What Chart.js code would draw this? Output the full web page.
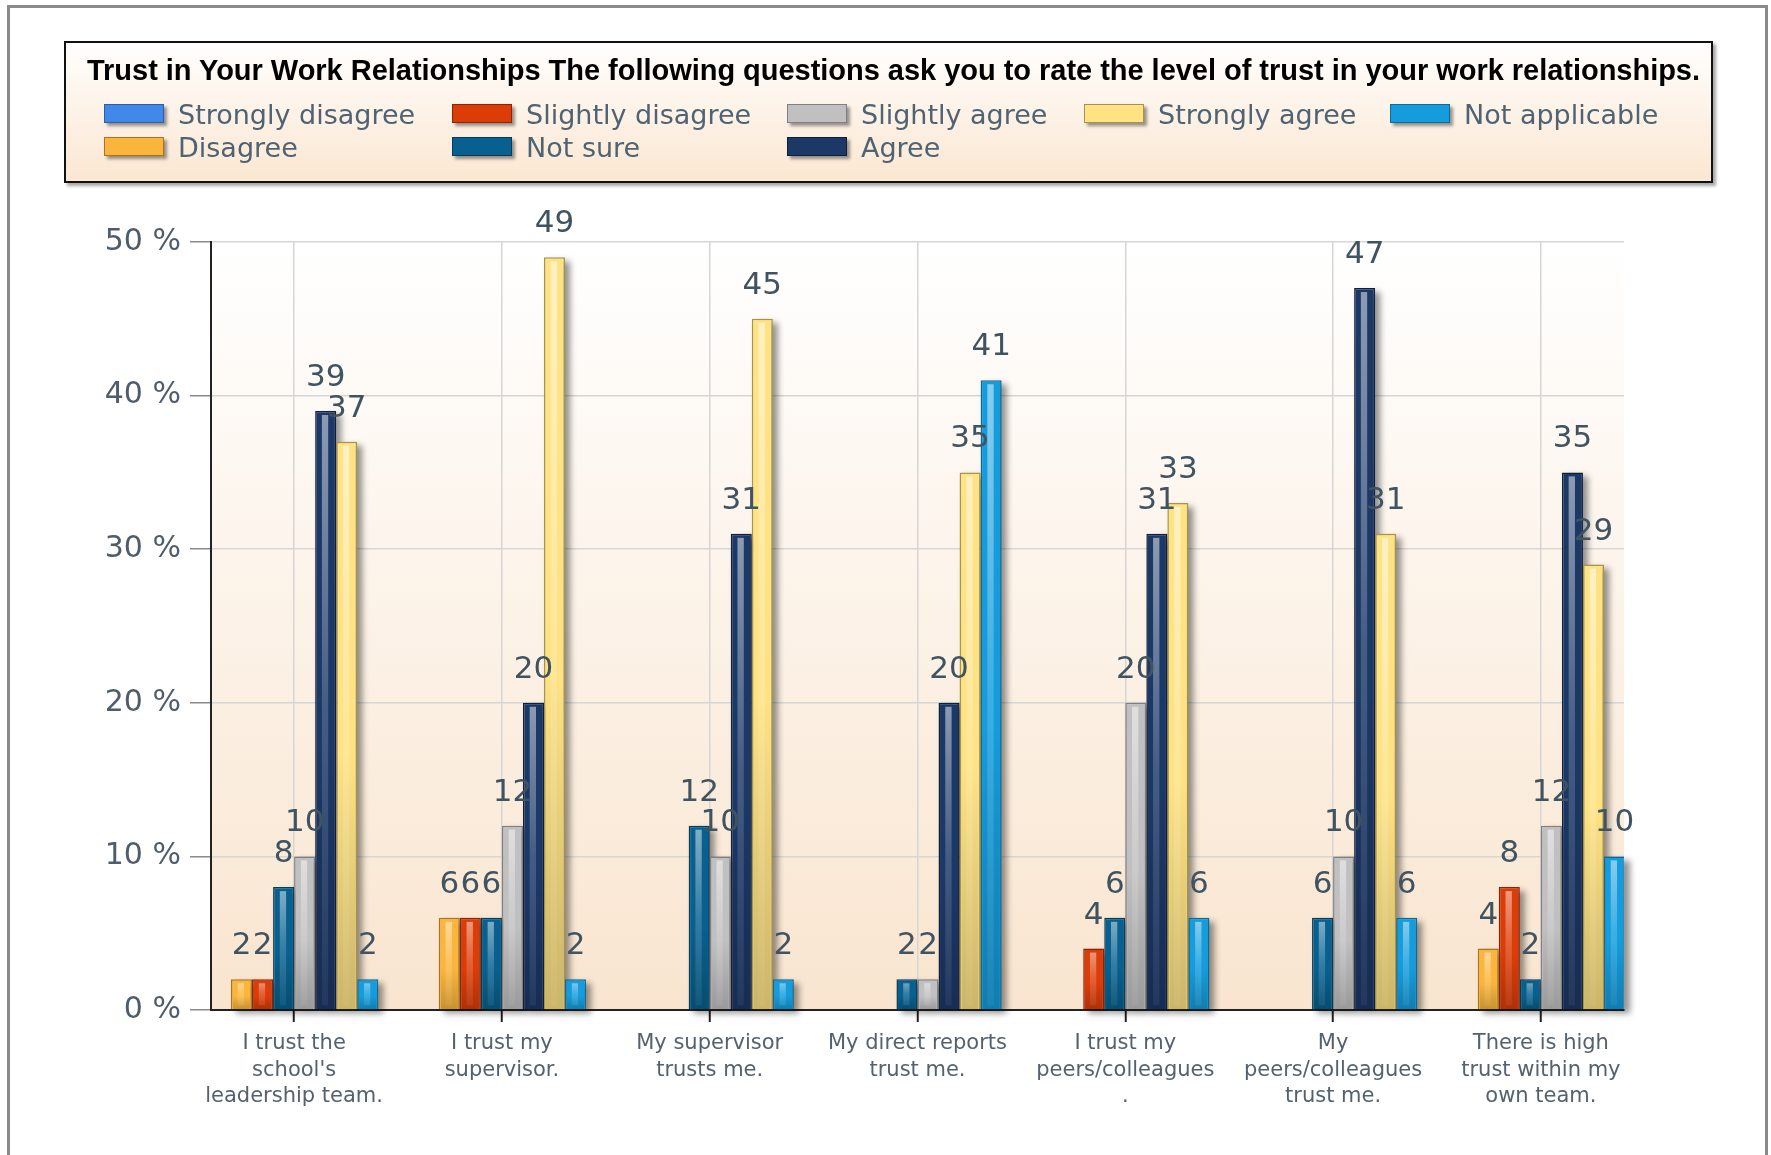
<!DOCTYPE html>
<html>
<head>
<meta charset="utf-8">
<title>Trust in Your Work Relationships</title>
<script src="https://cdn.jsdelivr.net/npm/chart.js@4.4.1/dist/chart.umd.min.js"></script>
<style>
    body { margin: 0; background: #fff; width: 1771px; height: 1155px; overflow: hidden; position: relative; }
    #frame { position: absolute; left: 7px; top: 5px; width: 1761px; height: 1200px; box-sizing: border-box;
             border: 3px solid #8a8a8a; border-bottom: none; }
    #chartCanvas { position: absolute; left: 0; top: 0; }
    #legendBox { position: absolute; left: 64px; top: 41px; width: 1649px; height: 142px; box-sizing: border-box;
                 border: 2px solid #111; background: linear-gradient(#fffefd, #fbe7d2);
                 box-shadow: 3px 3px 3px rgba(0,0,0,0.35); }
    #legendTitle { position: absolute; left: 21px; top: 13px; white-space: nowrap; color: #000;
                   font: bold 29px 'Liberation Sans', Arial, sans-serif; line-height: 29px; }
    .legItem { position: absolute; height: 27px; white-space: nowrap; }
    .legSwatch { position: absolute; left: 0; top: 2px; width: 60px; height: 19px; box-sizing: border-box;
                 border: 1px solid rgba(0,0,0,0.55); box-shadow: 3px 3px 3px rgba(0,0,0,0.4); }
    .legText { position: absolute; left: 74px; top: -1px; font: 27px 'DejaVu Sans', sans-serif; line-height: 27px; color: #506373; }
</style>
</head>
<body>
<div id="frame"></div>
<canvas id="chartCanvas" width="1771" height="1155"></canvas>
<div id="legendBox"><div id="legendTitle"></div></div>

<script>
// ---- data ----
var chartTitle = "Trust in Your Work Relationships The following questions ask you to rate the level of trust in your work relationships.";

var categories = [
    "I trust the school's leadership team.",
    "I trust my supervisor.",
    "My supervisor trusts me.",
    "My direct reports trust me.",
    "I trust my peers/colleagues .",
    "My peers/colleagues trust me.",
    "There is high trust within my own team."
];
var tickLabels = [
    ["I trust the", "school's", "leadership team."],
    ["I trust my", "supervisor."],
    ["My supervisor", "trusts me."],
    ["My direct reports", "trust me."],
    ["I trust my", "peers/colleagues", "."],
    ["My", "peers/colleagues", "trust me."],
    ["There is high", "trust within my", "own team."]
];
var yTicks = [0, 10, 20, 30, 40, 50];

var seriesNames = ["Strongly disagree", "Disagree", "Slightly disagree", "Not sure",
                   "Slightly agree", "Agree", "Strongly agree", "Not applicable"];

var stronglyDisagree = [0, 0, 0, 0, 0, 0, 0];
var disagree         = [2, 6, 0, 0, 0, 0, 4];
var slightlyDisagree = [2, 6, 0, 0, 4, 0, 8];
var notSure          = [8, 6, 12, 2, 6, 6, 2];
var slightlyAgree    = [10, 12, 10, 2, 20, 10, 12];
var agree            = [39, 20, 31, 20, 31, 47, 35];
var stronglyAgree    = [37, 49, 45, 35, 33, 31, 29];
var notApplicable    = [2, 2, 2, 41, 6, 6, 10];

var seriesValues = [stronglyDisagree, disagree, slightlyDisagree, notSure,
                    slightlyAgree, agree, stronglyAgree, notApplicable];

// ---- styles ----
var fillColors   = ['#4189e8', '#fbb53c', '#dc3c08', '#07608f', '#c0c0c0', '#1c3867', '#fee284', '#149cdc'];
var borderColors = ['#2a5fa8', '#a8741c', '#8a2405', '#043c5c', '#808080', '#0e1f3d', '#a89544', '#0b6a9a'];
var legendOrder  = [0, 2, 4, 6, 7, 1, 3, 5];
var legendCols   = [38, 386, 721, 1018, 1324];
var legendRows   = [59, 92];

function plotBackground() {
    return {
        id: 'plotBackground',
        beforeDraw: function(chart) {
            var a = chart.chartArea, ctx = chart.ctx;
            var g = ctx.createLinearGradient(0, a.top, 0, a.bottom);
            g.addColorStop(0, '#ffffff');
            g.addColorStop(1, '#f9e5cf');
            ctx.save();
            ctx.fillStyle = g;
            ctx.fillRect(a.left, a.top, a.right - a.left, a.bottom - a.top);
            ctx.restore();
        }
    };
}

function barShadows() {
    return {
        id: 'barShadows',
        beforeDatasetsDraw: function(chart) {
            var ctx = chart.ctx;
            ctx.save();
            ctx.filter = 'blur(3px)';
            ctx.fillStyle = 'rgba(0,0,0,0.42)';
            chart.data.datasets.forEach(function(ds, d) {
                chart.getDatasetMeta(d).data.forEach(function(bar, i) {
                    if (!ds.data[i].y) return;
                    var p = bar.getProps(['x', 'y', 'base', 'width'], true);
                    ctx.fillRect(p.x - p.width / 2 + 5, p.y + 4, p.width, p.base - p.y);
                });
            });
            ctx.restore();
        }
    };
}

function barShineAndLabels() {
    return {
        id: 'barShineAndLabels',
        afterDatasetsDraw: function(chart) {
            var ctx = chart.ctx;
            ctx.save();
            chart.data.datasets.forEach(function(ds, d) {
                chart.getDatasetMeta(d).data.forEach(function(bar, i) {
                    var v = ds.data[i].y;
                    if (!v) return;
                    var p = bar.getProps(['x', 'y', 'base', 'width'], true);
                    var h = p.base - p.y;
                    // darker toward the bottom
                    var dk = ctx.createLinearGradient(0, p.y, 0, p.base);
                    dk.addColorStop(0, 'rgba(0,0,0,0)');
                    dk.addColorStop(0.55, 'rgba(0,0,0,0)');
                    dk.addColorStop(1, 'rgba(0,0,0,0.2)');
                    ctx.fillStyle = dk;
                    ctx.fillRect(p.x - p.width / 2 + 2, p.y + 2, p.width - 4, h - 2);
                    // light stripe
                    var lt = ctx.createLinearGradient(0, p.y, 0, p.base);
                    lt.addColorStop(0, 'rgba(255,255,255,0.5)');
                    lt.addColorStop(0.5, 'rgba(255,255,255,0.18)');
                    lt.addColorStop(1, 'rgba(255,255,255,0.05)');
                    ctx.fillStyle = lt;
                    ctx.fillRect(p.x - p.width * 0.18, p.y + 4, p.width * 0.3, Math.max(h - 8, 0));
                });
            });
            ctx.font = '31px "DejaVu Sans"';
            ctx.fillStyle = '#3f5361';
            ctx.textAlign = 'center';
            ctx.textBaseline = 'alphabetic';
            chart.data.datasets.forEach(function(ds, d) {
                chart.getDatasetMeta(d).data.forEach(function(bar, i) {
                    var v = ds.data[i].y;
                    if (!v) return;
                    var p = bar.getProps(['x', 'y'], true);
                    ctx.fillText(String(v), p.x, p.y - 25);
                });
            });
            ctx.restore();
        }
    };
}

function buildLegend(chart) {
    var box = document.getElementById('legendBox');
    var title = document.getElementById('legendTitle');
    title.textContent = chartTitle;
    // squeeze the title to the width it has in the reference
    var natural = title.getBoundingClientRect().width;
    title.style.letterSpacing = ((1613 - natural) / chartTitle.length) + 'px';

    legendOrder.forEach(function(d, k) {
        var ds = chart.data.datasets[d];
        var item = document.createElement('div');
        item.className = 'legItem';
        item.style.left = legendCols[k % 5] + 'px';
        item.style.top = legendRows[Math.floor(k / 5)] + 'px';
        var sw = document.createElement('div');
        sw.className = 'legSwatch';
        sw.style.background = ds.backgroundColor;
        sw.style.borderColor = ds.borderColor;
        var tx = document.createElement('div');
        tx.className = 'legText';
        tx.textContent = ds.label;
        item.appendChild(sw);
        item.appendChild(tx);
        box.appendChild(item);
    });
}

function generateBars() {
    var canvas = document.getElementById('chartCanvas');

    var datasets = seriesValues.map(function(values, s) {
        return {
            label: seriesNames[s],
            data: values.map(function(v, i) { return { x: i, y: v }; }),
            backgroundColor: fillColors[s],
            borderColor: borderColors[s],
            borderWidth: 1.5,
            borderSkipped: 'start',
            categoryPercentage: 0.81,
            barPercentage: 1.0
        };
    });

    var options = {
        responsive: false,
        animation: false,
        devicePixelRatio: 1,
        layout: { padding: { top: 242, right: 147, bottom: 0, left: 0 } },
        plugins: {
            legend: { display: false },
            title: { display: false },
            tooltip: { enabled: false }
        },
        scales: {
            x: {
                type: 'linear',
                offset: false,
                min: -0.4,
                max: categories.length - 0.6,
                afterBuildTicks: function(scale) {
                    scale.ticks = categories.map(function(c, i) { return { value: i }; });
                },
                afterFit: function(scale) { scale.height = 145; },
                ticks: {
                    autoSkip: false,
                    maxRotation: 0,
                    padding: 9,
                    color: '#55626e',
                    font: { family: 'DejaVu Sans', size: 21, lineHeight: 1.24 },
                    callback: function(v) { return tickLabels[v]; }
                },
                grid: { offset: false, color: '#d6d6d6', lineWidth: 1.5, tickLength: 12, tickColor: '#222', tickWidth: 2 },
                border: { color: '#222', width: 2 }
            },
            y: {
                min: 0,
                max: 50,
                afterBuildTicks: function(scale) {
                    scale.ticks = yTicks.map(function(t) { return { value: t }; });
                },
                afterFit: function(scale) { scale.width = 211; },
                ticks: {
                    padding: 9,
                    color: '#4f5d6a',
                    font: { family: 'DejaVu Sans', size: 30 },
                    callback: function(v) { return v + ' %'; }
                },
                grid: { color: '#d6d6d6', lineWidth: 1.5, tickLength: 21, tickColor: '#8a8a8a', tickWidth: 1.5 },
                border: { color: '#222', width: 2 }
            }
        }
    };

    var chart = new Chart(canvas, {
        type: 'bar',
        data: { datasets: datasets },
        options: options,
        plugins: [plotBackground(), barShadows(), barShineAndLabels()]
    });

    buildLegend(chart);
}

generateBars();
</script>
</body>
</html>
